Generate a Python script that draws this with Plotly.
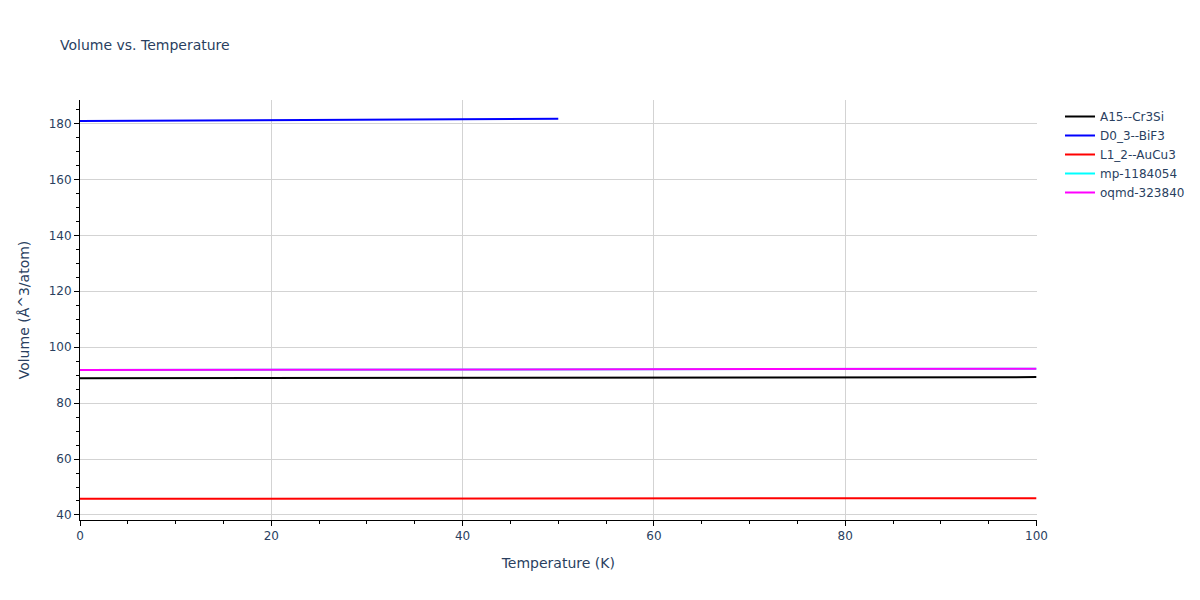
import plotly.graph_objects as go

# temperature grid (K)
temps = [0, 10, 20, 30, 40, 50, 60, 70, 80, 90, 100]
temps_bif3 = [0, 10, 20, 30, 40, 50]

# volume per atom (A^3/atom)
vol_a15 = [88.9, 88.93, 88.97, 89.0, 89.04, 89.08, 89.12, 89.16, 89.2, 89.25, 89.3]
vol_bif3 = [180.9, 181.03, 181.18, 181.34, 181.52, 181.72]
vol_l12 = [45.8, 45.81, 45.82, 45.84, 45.86, 45.88, 45.9, 45.92, 45.94, 45.97, 46.0]
vol_mp = [91.8, 91.84, 91.88, 91.93, 91.98, 92.03, 92.08, 92.13, 92.18, 92.24, 92.3]
vol_oqmd = [91.8, 91.84, 91.88, 91.93, 91.98, 92.03, 92.08, 92.13, 92.18, 92.24, 92.3]

series = [
    ("A15--Cr3Si", temps, vol_a15, "black"),
    ("D0_3--BiF3", temps_bif3, vol_bif3, "blue"),
    ("L1_2--AuCu3", temps, vol_l12, "red"),
    ("mp-1184054", temps, vol_mp, "cyan"),
    ("oqmd-323840", temps, vol_oqmd, "magenta"),
]

fig = go.Figure()
for name, x, y, color in series:
    fig.add_trace(go.Scatter(x=x, y=y, mode="lines", name=name,
                             line=dict(color=color, width=2)))

axis_style = dict(
    showline=True, linecolor="black", linewidth=1,
    ticks="outside", tickcolor="black", ticklen=5,
    showgrid=True, gridcolor="lightgrey", zeroline=False,
    minor=dict(ticks="outside", ticklen=3, tickcolor="black", dtick=5, showgrid=False),
)

# the page puts the figure 8px in from the corner, so the size is trimmed to fit
fig.update_layout(
    title=dict(text="Volume vs. Temperature", x=52 / 1184, y=1 - 37 / 584,
               xanchor="left", yanchor="middle", font=dict(size=14)),
    width=1184, height=584,
    font=dict(family="DejaVu Sans", size=12, color="#2a3f5f"),
    plot_bgcolor="white", paper_bgcolor="white",
    xaxis=dict(title="Temperature (K)", range=[0, 100], dtick=20, **axis_style),
    yaxis=dict(title="Volume (Å^3/atom)", range=[38.2, 188.4], dtick=20, **axis_style),
    legend=dict(xref="container", yref="container", x=1052 / 1184, y=1 - 94 / 584,
                xanchor="left", yanchor="top", font=dict(size=12)),
    margin=dict(l=72, r=154, t=92, b=72),
)

fig.write_html("out.html")
